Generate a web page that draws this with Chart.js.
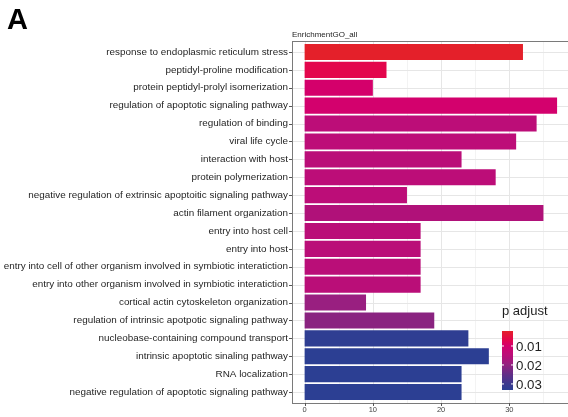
<!DOCTYPE html>
<html>
<head>
<meta charset="utf-8">
<script src="https://cdn.jsdelivr.net/npm/chart.js@4"></script>
<style>
  html, body { margin: 0; padding: 0; background: #ffffff; }
  #wrap { width: 568px; height: 417px; }
</style>
</head>
<body>
<div id="wrap"><canvas id="chart" width="568" height="417"></canvas></div>
<script>
// GO terms, top to bottom
const categories = [
  "response to endoplasmic reticulum stress",
  "peptidyl-proline modification",
  "protein peptidyl-prolyl isomerization",
  "regulation of apoptotic signaling pathway",
  "regulation of binding",
  "viral life cycle",
  "interaction with host",
  "protein polymerization",
  "negative regulation of extrinsic apoptoitic signaling pathway",
  "actin filament organization",
  "entry into host cell",
  "entry into host",
  "entry into cell of other organism involved in symbiotic interatiction",
  "entry into other organism involved in symbiotic interatiction",
  "cortical actin cytoskeleton organization",
  "regulation of intrinsic apotpotic signaling pathway",
  "nucleobase-containing compound transport",
  "intrinsic apoptotic sinaling pathway",
  "RNA localization",
  "negative regulation of apoptotic signaling pathway"
];

// gene counts per term
const counts = [32, 12, 10, 37, 34, 31, 23, 28, 15, 35, 17, 17, 17, 17, 9, 19, 24, 27, 23, 23];

// adjusted p-values per term (fill colour)
const pAdjust = [0.0021, 0.0068, 0.0098, 0.0101, 0.0145, 0.0144, 0.0148, 0.0145, 0.0145, 0.0164,
                 0.0148, 0.0148, 0.0148, 0.0148, 0.0192, 0.0208, 0.0326, 0.0332, 0.0332, 0.0332];

const xTicks = [0, 10, 20, 30];
const xMinorTicks = [5, 15, 25, 35];
const legendTicks = [0.01, 0.02, 0.03];

const plotTitle = "EnrichmentGO_all";
const panelTag = "A";
const legendTitle = "p adjust";

// red -> magenta -> blue colour ramp
const rampStops = [
  [0.00, "#e4202a"], [0.15, "#e3064c"], [0.25, "#d4006c"], [0.40, "#bc0d78"],
  [0.46, "#b01179"], [0.55, "#991f80"], [0.60, "#8a2380"], [0.75, "#5e2f88"],
  [0.90, "#3b3a8f"], [1.00, "#2c3f93"]
];

function hexToRgb(h) {
  return [parseInt(h.slice(1, 3), 16), parseInt(h.slice(3, 5), 16), parseInt(h.slice(5, 7), 16)];
}
function rampColor(t) {
  t = Math.max(0, Math.min(1, t));
  for (let i = 1; i < rampStops.length; i++) {
    const [t1, c1] = rampStops[i];
    const [t0, c0] = rampStops[i - 1];
    if (t <= t1) {
      const f = (t - t0) / (t1 - t0);
      const a = hexToRgb(c0), b = hexToRgb(c1);
      const c = a.map((v, k) => Math.round(v + (b[k] - v) * f));
      return `rgb(${c[0]},${c[1]},${c[2]})`;
    }
  }
  return rampStops[rampStops.length - 1][1];
}

const pMin = Math.min(...pAdjust);
const pMax = Math.max(...pAdjust);
const barColors = pAdjust.map(p => rampColor((p - pMin) / (pMax - pMin)));

const FONT = "'Liberation Sans', Arial, Helvetica, sans-serif";

// panel background, grid, border, axis ticks, colour bar and titles
const panelPlugin = {
  id: "panelPlugin",
  beforeDatasetsDraw(chart) {
    const { ctx, chartArea, scales } = chart;
    const x = scales.x, y = scales.y;
    const L = chartArea.left, R = chartArea.right;
    const T = chartArea.top - 2, B = chartArea.bottom + 2;
    ctx.save();
    ctx.fillStyle = "#ffffff";
    ctx.fillRect(L, T, R - L, B - T);
    ctx.lineWidth = 1;
    ctx.strokeStyle = "#f3f3f3";
    xMinorTicks.forEach(v => {
      const px = Math.round(x.getPixelForValue(v)) + 0.5;
      ctx.beginPath(); ctx.moveTo(px, T); ctx.lineTo(px, B); ctx.stroke();
    });
    ctx.strokeStyle = "#e6e6e6";
    xTicks.forEach(v => {
      const px = Math.round(x.getPixelForValue(v)) + 0.5;
      ctx.beginPath(); ctx.moveTo(px, T); ctx.lineTo(px, B); ctx.stroke();
    });
    categories.forEach((c, i) => {
      const py = Math.round(y.getPixelForValue(i)) + 0.5;
      ctx.beginPath(); ctx.moveTo(L, py); ctx.lineTo(R, py); ctx.stroke();
    });
    ctx.restore();
  },
  afterDatasetsDraw(chart) {
    const { ctx, chartArea, scales } = chart;
    const x = scales.x, y = scales.y;
    const L = chartArea.left, R = chartArea.right;
    const T = chartArea.top - 2, B = chartArea.bottom + 2;
    ctx.save();
    // panel border
    ctx.strokeStyle = "#7a7a7a";
    ctx.lineWidth = 1;
    ctx.strokeRect(L + 0.5, T + 0.5, R - L, B - T);
    // axis tick marks
    ctx.strokeStyle = "#555555";
    xTicks.forEach(v => {
      const px = Math.round(x.getPixelForValue(v)) + 0.5;
      ctx.beginPath(); ctx.moveTo(px, B); ctx.lineTo(px, B + 3); ctx.stroke();
    });
    categories.forEach((c, i) => {
      const py = Math.round(y.getPixelForValue(i)) + 0.5;
      ctx.beginPath(); ctx.moveTo(L - 3, py); ctx.lineTo(L, py); ctx.stroke();
    });

    // colour bar legend
    const cbL = 502, cbW = 11, cbT = 331, cbH = 59;
    const grad = ctx.createLinearGradient(0, cbT, 0, cbT + cbH);
    rampStops.forEach(([t, c]) => grad.addColorStop(t, c));
    ctx.fillStyle = grad;
    ctx.fillRect(cbL, cbT, cbW, cbH);
    ctx.fillStyle = "#1e1e1e";
    ctx.font = "13px " + FONT;
    ctx.textAlign = "left";
    ctx.textBaseline = "alphabetic";
    ctx.fillText(legendTitle, cbL, 315);
    ctx.font = "13.3px " + FONT;
    ctx.textBaseline = "middle";
    legendTicks.forEach(v => {
      const py = cbT + (v - pMin) / (pMax - pMin) * cbH;
      ctx.strokeStyle = "#ffffff";
      ctx.beginPath();
      ctx.moveTo(cbL, py); ctx.lineTo(cbL + 2, py);
      ctx.moveTo(cbL + cbW - 2, py); ctx.lineTo(cbL + cbW, py);
      ctx.stroke();
      ctx.fillText(v.toFixed(2), cbL + cbW + 3, py + 1);
    });

    // plot title and panel tag
    ctx.fillStyle = "#1e1e1e";
    ctx.font = "8px " + FONT;
    ctx.textBaseline = "alphabetic";
    ctx.fillText(plotTitle, L, 37);
    ctx.fillStyle = "#000000";
    ctx.font = "bold 29px " + FONT;
    ctx.fillText(panelTag, 7, 29);
    ctx.restore();
  }
};

new Chart(document.getElementById("chart"), {
  type: "bar",
  data: {
    labels: categories,
    datasets: [{
      data: counts,
      backgroundColor: barColors,
      borderWidth: 0,
      barPercentage: 0.9,
      categoryPercentage: 1.0
    }]
  },
  options: {
    indexAxis: "y",
    responsive: false,
    animation: false,
    events: [],
    layout: { padding: { top: 43, right: 0, bottom: 0, left: 0 } },
    plugins: { legend: { display: false }, tooltip: { enabled: false }, title: { display: false } },
    scales: {
      x: {
        type: "linear",
        min: -1.85,
        max: 38.6,
        afterBuildTicks(scale) { scale.ticks = xTicks.map(v => ({ value: v })); },
        grid: { display: false, drawTicks: false },
        border: { display: false },
        ticks: {
          color: "#444444",
          font: { family: FONT, size: 7.5 },
          padding: 4,
          maxRotation: 0,
          autoSkip: false
        },
        afterFit(scale) { scale.height = 16; }
      },
      y: {
        grid: { display: false, drawTicks: false },
        border: { display: false },
        ticks: {
          color: "#1e1e1e",
          font: { family: FONT, size: 9.9 },
          padding: 4,
          autoSkip: false
        },
        afterFit(scale) { scale.width = 292; }
      }
    }
  },
  plugins: [panelPlugin]
});
</script>
</body>
</html>
